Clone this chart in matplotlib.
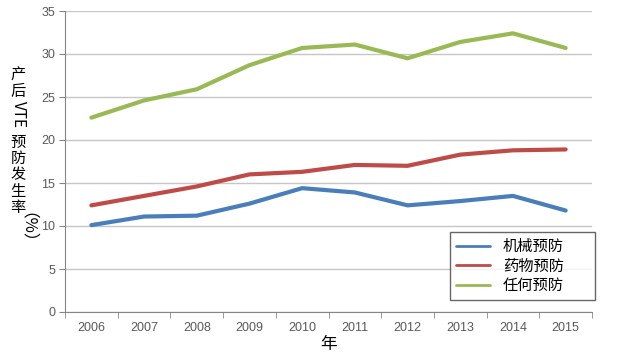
import matplotlib.pyplot as plt
from matplotlib.ticker import FixedLocator

plt.rcParams['font.family'] = ['Liberation Sans', 'Noto Sans CJK SC', 'DejaVu Sans']

# 数据
years = ["2006", "2007", "2008", "2009", "2010", "2011", "2012", "2013", "2014", "2015"]
mechanical = [10.1, 11.1, 11.2, 12.6, 14.4, 13.9, 12.4, 12.9, 13.5, 11.8]
drug = [12.4, 13.5, 14.6, 16.0, 16.3, 17.1, 17.0, 18.3, 18.8, 18.9]
any_prev = [22.6, 24.6, 25.9, 28.7, 30.7, 31.1, 29.5, 31.4, 32.4, 30.7]
series_names = ["机械预防", "药物预防", "任何预防"]
colors = ["#4a7ebb", "#be4b48", "#98b954"]

fig = plt.figure(figsize=(6.4, 3.54), dpi=100)
ax = fig.add_axes([65 / 640, (354 - 312) / 354, (592 - 65) / 640, (312 - 11) / 354])

x = list(range(len(years)))
for vals, name, c in zip([mechanical, drug, any_prev], series_names, colors):
    ax.plot(x, vals, color=c, linewidth=3, label=name, solid_capstyle='round')

ax.set_xlim(-0.5, len(years) - 0.5)
ax.set_ylim(0, 35)
ax.set_yticks(range(0, 36, 5))
ax.set_xticks(x)
ax.set_xticklabels(years)
ax.xaxis.set_minor_locator(FixedLocator([i - 0.5 for i in range(len(years) + 1)]))
ax.tick_params(axis='x', which='major', length=0, pad=7, labelsize=9, labelcolor='#595959')
ax.tick_params(axis='x', which='minor', length=4, color='#868686')
ax.tick_params(axis='y', length=4, color='#868686', labelsize=9, labelcolor='#595959', pad=3)

ax.grid(axis='y', color='#c6c6c6', linewidth=1)
ax.set_axisbelow(True)
for s in ['top', 'right']:
    ax.spines[s].set_visible(False)
for s in ['left', 'bottom']:
    ax.spines[s].set_color('#868686')

ax.set_xlabel("年", fontsize=12, labelpad=2, family=['Noto Sans CJK SC'])

# 竖排的y轴标题
parts = [("产\n后", 0, 83, 11), ("VTE", -90, 115, 11), ("预\n防\n发\n生\n率", 0, 175, 11),
         ("（%）", -90, 236, 12)]
for txt, rot, ypix, fs in parts:
    fig.text(18 / 640, 1 - ypix / 354, txt, rotation=rot, ha='center', va='center',
             fontsize=fs, linespacing=0.95, family=['Noto Sans CJK SC', 'DejaVu Sans'])

leg = ax.legend(loc='lower left', bbox_to_anchor=(450 / 640, (354 - 300) / 354, 145 / 640, 66 / 354),
                bbox_transform=fig.transFigure, mode='expand', frameon=True, fancybox=False,
                edgecolor='#404040', handlelength=2.2, handletextpad=0.85, labelspacing=0.15,
                borderpad=0.4, borderaxespad=0, prop={'family': ['Noto Sans CJK SC'], 'size': 11})
leg.get_frame().set_linewidth(1.0)
for line in leg.get_lines():
    line.set_linewidth(2)

fig.savefig("out.png", dpi=100)
